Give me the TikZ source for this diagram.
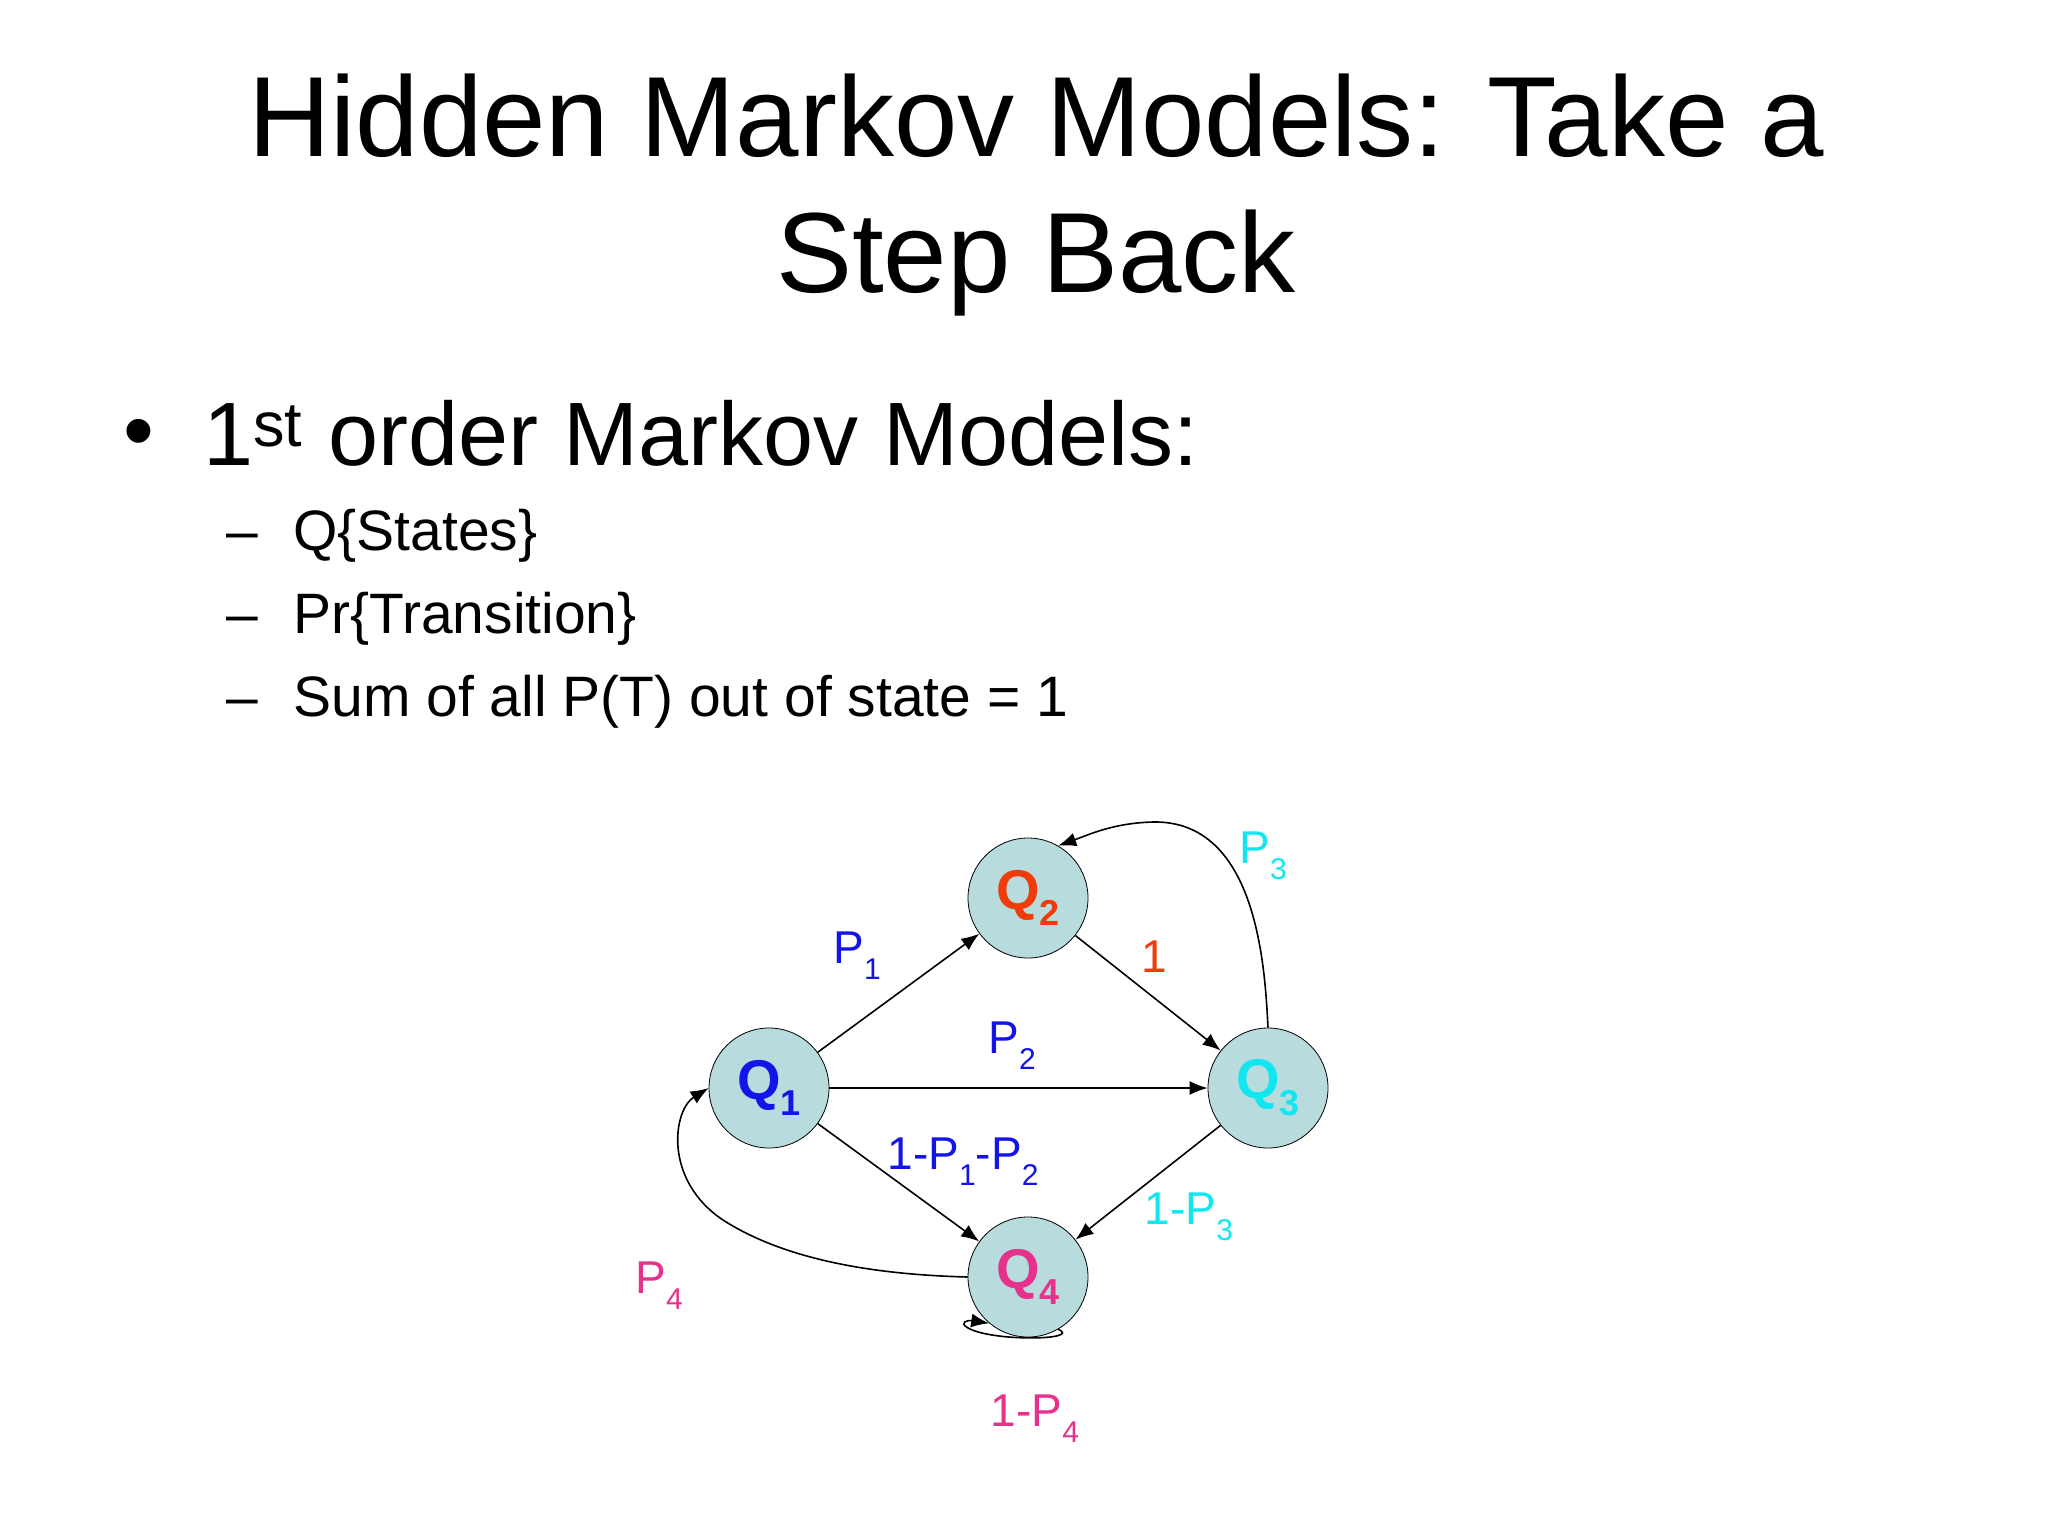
\documentclass[tikz,border=0pt]{standalone}
\usepackage{fontspec}
\setmainfont{Liberation Sans}
\usetikzlibrary{arrows.meta}
\definecolor{nfill}{RGB}{184,220,222}
\definecolor{qred}{RGB}{240,60,10}
\definecolor{qblue}{RGB}{20,20,230}
\definecolor{qcyan}{RGB}{20,230,240}
\definecolor{qpink}{RGB}{230,50,140}
\newcommand{\lsub}[1]{\raisebox{-0.35em}{\fontsize{15}{17}\selectfont #1}}
\newcommand{\nsub}[1]{\raisebox{-0.3em}{\fontsize{18}{20}\selectfont\bfseries #1}}
\begin{document}
\begin{tikzpicture}[x=0.5pt,y=-0.5pt,
  state/.style={circle,draw,fill=nfill,inner sep=0pt,minimum size=60pt,font=\fontsize{28}{32}\selectfont\bfseries},
  lbl/.style={font=\fontsize{23}{28}\selectfont,inner sep=0pt},
  edge/.style={-{Latex[length=9pt,width=7pt]},line width=0.8pt}]
\fill[white] (0,0) rectangle (2048,1536);
\node[font=\fontsize{57}{68}\selectfont,align=center] (t) at (1036,195) {Hidden Markov Models: Take a\\Step Back};
\node[font=\fontsize{44}{50}\selectfont,anchor=base] (b) at (139,460) {•};
\node[font=\fontsize{45}{50}\selectfont,anchor=base west,inner sep=0pt] (h) at (203,465) {1\textsuperscript{st} order Markov Models:};
\foreach \y/\t [count=\i] in {550/Q\{States\},633/Pr\{Transition\},716/Sum of all P(T) out of state = 1}{
  \node[font=\fontsize{28.5}{34}\selectfont,anchor=base,inner sep=0pt] (d\i) at (242,\y) {–};
  \node[font=\fontsize{28.5}{34}\selectfont,anchor=base west,inner sep=0pt] (s\i) at (293,\y) {\t};
}
\begin{scope}[shift={(-7,-10)}]
\node[state,text=qblue] (q1) at (776,1098) {Q\nsub{1}};
\node[state,text=qred] (q2) at (1035,908) {Q\nsub{2}};
\node[state,text=qcyan] (q3) at (1275,1098) {Q\nsub{3}};
\node[state,text=qpink] (q4) at (1035,1287) {Q\nsub{4}};
\draw[edge] (q1) -- (q2);
\draw[edge] (q1) -- (q3);
\draw[edge] (q1) -- (q4);
\draw[edge] (q2) -- (q3);
\draw[edge] (q3) -- (q4);
\draw[edge] (q3.90) .. controls (1272,980) and (1265,830) .. (1160,832) .. controls (1120,833) and (1095,845) .. (q2.60);
\draw[edge] (q4.180) .. controls (900,1285) and (800,1275) .. (730,1230) .. controls (670,1190) and (680,1120) .. (q1.180);
\draw[edge] (q4.-60) .. controls (1090,1350) and (1000,1352) .. (975,1338) .. controls (965,1332) and (975,1330) .. (q4.-130);
\node[lbl,text=qblue] (l1) at (864,966) {P\lsub{1}};
\node[lbl,text=qblue] (l2) at (1019,1056) {P\lsub{2}};
\node[lbl,text=qred] (l3) at (1161,967) {1};
\node[lbl,text=qblue] (l4) at (970,1172) {1-P\lsub{1}-P\lsub{2}};
\node[lbl,text=qcyan] (l5) at (1270,866) {P\lsub{3}};
\node[lbl,text=qcyan] (l6) at (1196,1227) {1-P\lsub{3}};
\node[lbl,text=qpink] (l7) at (666,1296) {P\lsub{4}};
\node[lbl,text=qpink] (l8) at (1042,1429) {1-P\lsub{4}};
\end{scope}
\end{tikzpicture}
\end{document}
